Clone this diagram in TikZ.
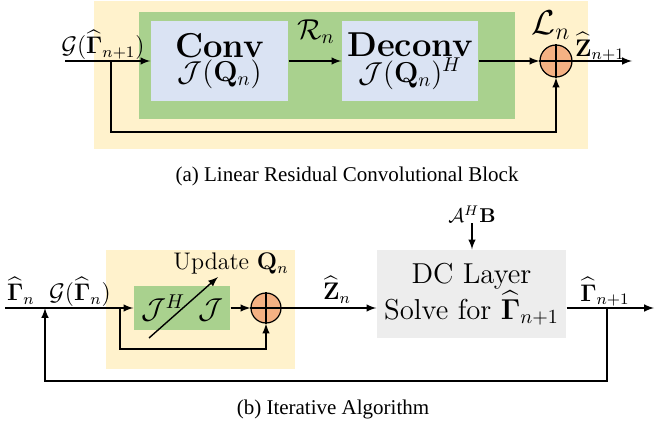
\documentclass[tikz,border=0pt]{standalone}
\usepackage{amsmath,amssymb}
\usepackage[no-math]{fontspec}
\newfontfamily\capfont{Liberation Serif}
\usetikzlibrary{positioning}
\definecolor{boxyellow}{HTML}{FFF2CC}
\definecolor{boxgreen}{HTML}{A9D18E}
\definecolor{boxblue}{HTML}{DAE3F3}
\definecolor{boxgray}{HTML}{EDEDED}
\definecolor{sumorange}{HTML}{F4B183}
\newcommand{\Ghat}{\widehat{\mathbf{\Gamma}}}
\begin{document}
\begin{tikzpicture}[x=0.5pt,y=-0.5pt,>=latex,line width=0.7pt,
	blk/.style={rectangle,inner sep=0pt,align=center},
	sumnode/.style={circle,draw,fill=sumorange,minimum size=16pt,inner sep=0pt,line width=0.6pt},
	lbl/.style={font=\large,inner sep=0pt}]
	\useasboundingbox (0,0) rectangle (655,428);
	% (a) residual block
	\fill[boxyellow] (94,1) rectangle (588,149);
	\fill[boxgreen] (139,12) rectangle (515,119);
	\node[blk,fill=boxblue,minimum width=68.5pt,minimum height=40pt] (conv) at (219.5,61) {{\LARGE\bfseries Conv}\\ {\Large $\mathcal{J}(\mathbf{Q}_n)$}};
	\node[blk,fill=boxblue,minimum width=68pt,minimum height=40pt] (deconv) at (410,61) {{\LARGE\bfseries Deconv}\\ {\Large $\mathcal{J}(\mathbf{Q}_n)^H$}};
	\node[sumnode] (suma) at (556,61) {};
	\draw[line width=0.6pt] (suma.north) -- (suma.south) (suma.west) -- (suma.east);
	\coordinate (ina) at (65,61);
	\coordinate (splita) at (111,61);
	\coordinate (loopa) at (111,132);
	\coordinate (outa) at (632,61);
	\draw[->] (ina) -- (conv);
	\draw[->] (conv) -- (deconv);
	\draw[->] (deconv) -- (suma);
	\draw[->] (suma) -- (outa);
	\draw[->] (splita) -- (loopa) -| (suma);
	\node[lbl] (ga) at (103,45) {$\mathcal{G}(\Ghat_{n+1})$};
	\node[font=\Large,inner sep=0pt] (rn) at (316,32) {$\mathcal{R}_n$};
	\node[font=\LARGE,inner sep=0pt] (ln) at (551,25) {$\mathcal{L}_n$};
	\node[lbl] (za) at (600,47) {$\widehat{\mathbf{Z}}_{n+1}$};
	\node[font=\capfont\fontsize{10.5}{12}\selectfont] (capa) at (347,176) {(a) Linear Residual Convolutional Block};
	% (b) iterative algorithm
	\fill[boxyellow] (106,250) rectangle (295,369);
	\node[blk,fill=boxgreen,minimum width=48pt,minimum height=22pt] (jhj) at (182,308) {\Large $\mathcal{J}^H\;\,\mathcal{J}$};
	\node[sumnode,minimum size=15pt] (sumb) at (266,308) {};
	\draw[line width=0.6pt] (sumb.north) -- (sumb.south) (sumb.west) -- (sumb.east);
	\node[blk,fill=boxgray,minimum width=94.5pt,minimum height=44pt,font=\Large] (dc) at (471.5,294) {DC Layer\\ Solve for $\Ghat_{n+1}$};
	\coordinate (inb) at (5,308);
	\coordinate (splitb) at (120,308);
	\coordinate (loopb) at (120,349);
	\coordinate (fbin) at (45,308);
	\coordinate (fbout) at (607,308);
	\coordinate (fbbot) at (607,381);
	\coordinate (outb) at (654,308);
	\draw[->] (inb) -- (jhj);
	\draw[->] (jhj) -- (sumb);
	\draw[->] (splitb) -- (loopb) -| (sumb);
	\draw[->] (sumb) -- (sumb -| dc.west);
	\draw[->] (dc.east |- sumb) -- (outb);
	\draw[->] (fbout) -- (fbbot) -| (fbin);
	\node[inner sep=0pt] (ahb) at (472,214) {$\mathcal{A}^H\mathbf{B}$};
	\draw[->] (ahb) -- (ahb |- dc.north);
	\coordinate (updlow) at (149,338);
	\coordinate (updtip) at (218,277);
	\draw[->] (updlow) -- (updtip);
	\node[lbl] (upd) at (231,264) {Update $\mathbf{Q}_n$};
	\node[lbl] (gb) at (80,292) {$\mathcal{G}(\Ghat_n)$};
	\node[lbl] (gamn) at (21,291) {$\Ghat_n$};
	\node[lbl] (zb) at (337,290) {$\widehat{\mathbf{Z}}_n$};
	\node[lbl] (gamn1) at (605,292) {$\Ghat_{n+1}$};
	\node[font=\capfont\fontsize{10.5}{12}\selectfont] (capb) at (333,409) {(b) Iterative Algorithm};
\end{tikzpicture}
\end{document}
